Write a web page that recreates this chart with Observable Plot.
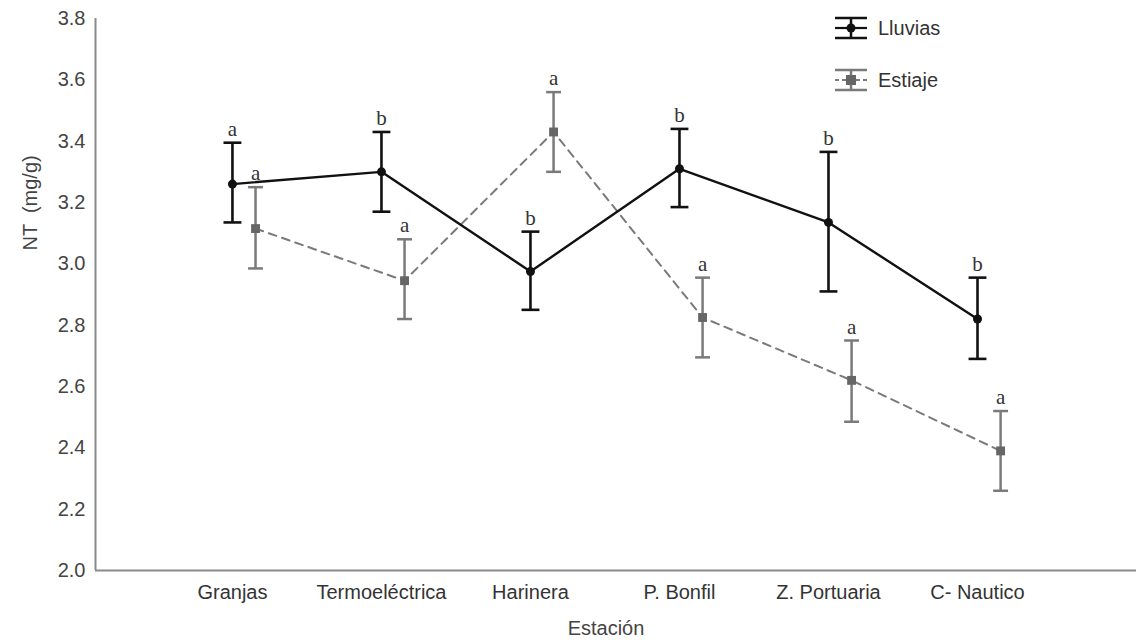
<!DOCTYPE html>
<html>
<head>
<meta charset="utf-8">
<script src="https://cdn.jsdelivr.net/npm/d3@7"></script>
<script src="https://cdn.jsdelivr.net/npm/@observablehq/plot@0.6"></script>
<style>
  body { margin: 0; background: #fff; }
  #wrap { position: relative; width: 1136px; height: 644px; font-family: "Liberation Sans", Arial, sans-serif; }
  .leg { position: absolute; left: 833px; display: flex; align-items: center; font-size: 20px; color: #333; }
  .leg svg { margin-right: 9px; }
</style>
</head>
<body>
<div id="wrap"></div>
<script>
const stations = ["Granjas", "Termoeléctrica", "Harinera", "P. Bonfil", "Z. Portuaria", "C- Nautico"];
const lluviasMean = [3.26, 3.30, 2.975, 3.31, 3.135, 2.82];
const lluviasLow = [3.135, 3.17, 2.85, 3.185, 2.91, 2.69];
const lluviasHigh = [3.395, 3.43, 3.105, 3.44, 3.365, 2.955];
const lluviasLetters = ["a", "b", "b", "b", "b", "b"];
const estiajeMean = [3.115, 2.945, 3.43, 2.825, 2.62, 2.39];
const estiajeLow = [2.985, 2.82, 3.30, 2.695, 2.485, 2.26];
const estiajeHigh = [3.25, 3.08, 3.56, 2.955, 2.75, 2.52];
const estiajeLetters = ["a", "a", "a", "a", "a", "a"];
const yTicks = [2.0, 2.2, 2.4, 2.6, 2.8, 3.0, 3.2, 3.4, 3.6, 3.8];

const OFFSET = 0.155;          // dodge of the Estiaje series
const xDomain = [-0.919, 6.067];
const yDomain = [2.0, 3.8];

function build(means, lows, highs, letters, series, off) {
  return stations.map((s, i) => ({
    station: s, i, x: i + off, mean: means[i], low: lows[i], high: highs[i], letter: letters[i], series
  }));
}
const lluvias = build(lluviasMean, lluviasLow, lluviasHigh, lluviasLetters, "Lluvias", 0);
const estiaje = build(estiajeMean, estiajeLow, estiajeHigh, estiajeLetters, "Estiaje", OFFSET);

const BLACK = "#111";
const GRAY = "#7a7a7a";
const capL = 0.06, capE = 0.05;
const serif = "'Liberation Serif', 'Times New Roman', serif";

const chart = Plot.plot({
  width: 1136,
  height: 644,
  marginLeft: 95,
  marginRight: 0,
  marginTop: 18,
  marginBottom: 74,
  style: { fontFamily: "'Liberation Sans', Arial, sans-serif", fontSize: "20px", color: "#333", background: "#fff" },
  x: { type: "linear", domain: xDomain, axis: null },
  y: { domain: yDomain, axis: null },
  marks: [
    Plot.axisX({ ticks: stations.map((d, i) => i), tickFormat: i => stations[i], tickSize: 0, tickPadding: 14, label: null, fontSize: 20, fill: "#333" }),
    Plot.axisY({ ticks: yTicks, tickFormat: d3.format(".1f"), tickSize: 0, tickPadding: 10, label: null, fontSize: 20, fill: "#444" }),
    Plot.ruleX([xDomain[0]], { stroke: "#8a8a8a", strokeWidth: 2 }),
    Plot.ruleY([yDomain[0]], { stroke: "#8a8a8a", strokeWidth: 2 }),
    Plot.text(["NT  (mg/g)"], { frameAnchor: "left", rotate: -90, dx: -65, dy: -44, fontSize: 20, fill: "#444" }),
    Plot.text(["Estación"], { frameAnchor: "bottom", dy: 64, dx: -10, fontSize: 20, fill: "#444" }),
    // Estiaje
    Plot.line(estiaje, { x: "x", y: "mean", stroke: GRAY, strokeWidth: 2, strokeDasharray: "8,6" }),
    Plot.ruleX(estiaje, { x: "x", y1: "low", y2: "high", stroke: GRAY, strokeWidth: 2.5 }),
    Plot.link(estiaje, { x1: d => d.x - capE, x2: d => d.x + capE, y1: "low", y2: "low", stroke: GRAY, strokeWidth: 2.5 }),
    Plot.link(estiaje, { x1: d => d.x - capE, x2: d => d.x + capE, y1: "high", y2: "high", stroke: GRAY, strokeWidth: 2.5 }),
    Plot.dot(estiaje, { x: "x", y: "mean", symbol: "square", r: 5, fill: "#666" }),
    Plot.text(estiaje, { x: "x", y: "high", text: "letter", lineAnchor: "bottom", dy: -7, fontFamily: serif, fontSize: 21, fill: "#333" }),
    // Lluvias
    Plot.line(lluvias, { x: "x", y: "mean", stroke: BLACK, strokeWidth: 2.4 }),
    Plot.ruleX(lluvias, { x: "x", y1: "low", y2: "high", stroke: BLACK, strokeWidth: 2.6 }),
    Plot.link(lluvias, { x1: d => d.x - capL, x2: d => d.x + capL, y1: "low", y2: "low", stroke: BLACK, strokeWidth: 2.6 }),
    Plot.link(lluvias, { x1: d => d.x - capL, x2: d => d.x + capL, y1: "high", y2: "high", stroke: BLACK, strokeWidth: 2.6 }),
    Plot.dot(lluvias, { x: "x", y: "mean", r: 4.5, fill: BLACK }),
    Plot.text(lluvias, { x: "x", y: "high", text: "letter", lineAnchor: "bottom", dy: -7, fontFamily: serif, fontSize: 21, fill: "#333" })
  ]
});

const wrap = document.getElementById("wrap");
wrap.appendChild(chart);

// Legend
const legendItems = [
  { label: "Lluvias", color: BLACK, dash: null, marker: "circle", top: 14 },
  { label: "Estiaje", color: GRAY, dash: "4,3", marker: "square", top: 66 }
];
for (const it of legendItems) {
  const div = document.createElement("div");
  div.className = "leg";
  div.style.top = it.top + "px";
  const ns = "http://www.w3.org/2000/svg";
  const svg = document.createElementNS(ns, "svg");
  svg.setAttribute("width", 36); svg.setAttribute("height", 28);
  const mk = (tag, attrs) => { const e = document.createElementNS(ns, tag); for (const k in attrs) e.setAttribute(k, attrs[k]); svg.appendChild(e); return e; };
  mk("line", { x1: 2, x2: 34, y1: 4, y2: 4, stroke: it.color, "stroke-width": 2.5 });
  mk("line", { x1: 2, x2: 34, y1: 24, y2: 24, stroke: it.color, "stroke-width": 2.5 });
  mk("line", { x1: 18, x2: 18, y1: 4, y2: 24, stroke: it.color, "stroke-width": 2.5 });
  const mid = mk("line", { x1: 2, x2: 34, y1: 14, y2: 14, stroke: it.color, "stroke-width": 2.2 });
  if (it.dash) mid.setAttribute("stroke-dasharray", it.dash);
  if (it.marker === "circle") mk("circle", { cx: 18, cy: 14, r: 4.5, fill: it.color });
  else mk("rect", { x: 13, y: 9, width: 10, height: 10, fill: "#666" });
  div.appendChild(svg);
  const span = document.createElement("span");
  span.textContent = it.label;
  div.appendChild(span);
  wrap.appendChild(div);
}
</script>
</body>
</html>
